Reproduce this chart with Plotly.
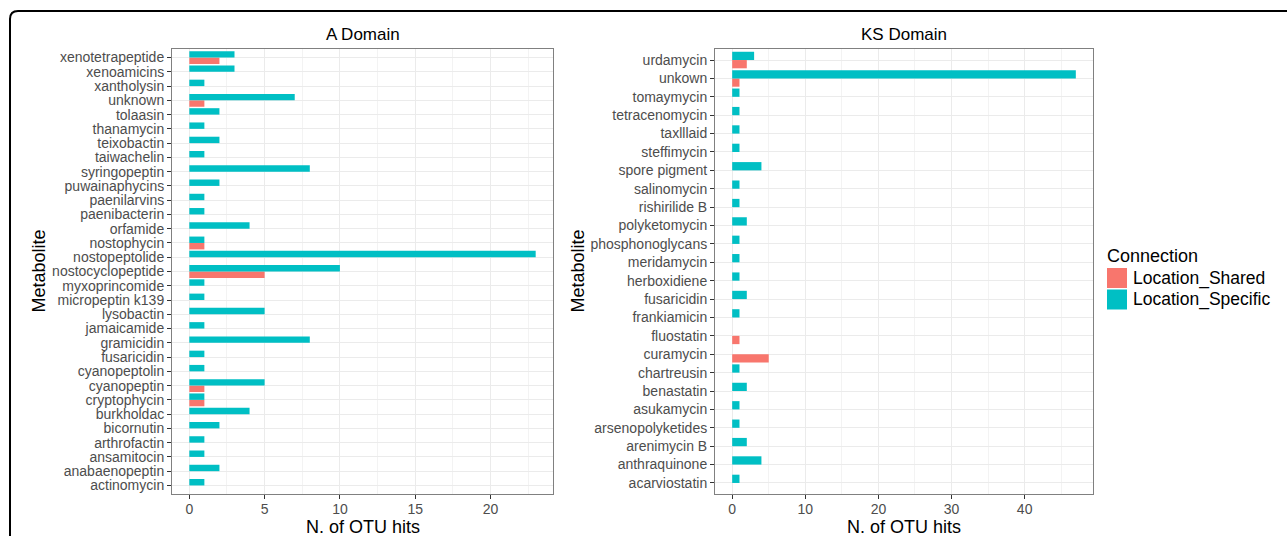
import plotly.graph_objects as go

# ---------------- data ----------------
a_metabolites = ["actinomycin", "anabaenopeptin", "ansamitocin", "arthrofactin", "bicornutin",
                 "burkholdac", "cryptophycin", "cyanopeptin", "cyanopeptolin", "fusaricidin",
                 "gramicidin", "jamaicamide", "lysobactin", "micropeptin k139", "myxoprincomide",
                 "nostocyclopeptide", "nostopeptolide", "nostophycin", "orfamide", "paenibacterin",
                 "paenilarvins", "puwainaphycins", "syringopeptin", "taiwachelin", "teixobactin",
                 "thanamycin", "tolaasin", "unknown", "xantholysin", "xenoamicins", "xenotetrapeptide"]
a_specific = [1, 2, 1, 1, 2,
              4, 1, 5, 1, 1,
              8, 1, 5, 1, 1,
              10, 23, 1, 4, 1,
              1, 2, 8, 1, 2,
              1, 2, 7, 1, 3, 3]
a_shared_names = ["cryptophycin", "cyanopeptin", "nostocyclopeptide", "nostophycin", "unknown", "xenotetrapeptide"]
a_shared = [1, 1, 5, 1, 1, 2]

ks_metabolites = ["acarviostatin", "anthraquinone", "arenimycin B", "arsenopolyketides", "asukamycin",
                  "benastatin", "chartreusin", "curamycin", "fluostatin", "frankiamicin",
                  "fusaricidin", "herboxidiene", "meridamycin", "phosphonoglycans", "polyketomycin",
                  "rishirilide B", "salinomycin", "spore pigment", "steffimycin", "taxlllaid",
                  "tetracenomycin", "tomaymycin", "unkown", "urdamycin"]
ks_specific_names = ["acarviostatin", "anthraquinone", "arenimycin B", "arsenopolyketides", "asukamycin",
                     "benastatin", "chartreusin", "frankiamicin",
                     "fusaricidin", "herboxidiene", "meridamycin", "phosphonoglycans", "polyketomycin",
                     "rishirilide B", "salinomycin", "spore pigment", "steffimycin", "taxlllaid",
                     "tetracenomycin", "tomaymycin", "unkown", "urdamycin"]
ks_specific = [1, 4, 2, 1, 1,
               2, 1, 1,
               2, 1, 1, 1, 2,
               1, 1, 4, 1, 1,
               1, 1, 47, 3]
ks_shared_names = ["curamycin", "fluostatin", "unkown", "urdamycin"]
ks_shared = [5, 1, 1, 2]

legend_title = "Connection"
legend_names = ["Location_Shared", "Location_Specific"]
colors = ["#F8766D", "#00BFC4"]

# ---------------- figure ----------------
W, H = 1287, 536
FONT = "Liberation Sans, Arial, sans-serif"

fig = go.Figure()

fig.add_trace(go.Bar(y=a_shared_names, x=a_shared, orientation="h", name=legend_names[0],
                     marker=dict(color=colors[0], line=dict(width=0)), showlegend=False,
                     xaxis="x", yaxis="y"))
fig.add_trace(go.Bar(y=a_metabolites, x=a_specific, orientation="h", name=legend_names[1],
                     marker=dict(color=colors[1], line=dict(width=0)), showlegend=False,
                     xaxis="x", yaxis="y"))
fig.add_trace(go.Bar(y=ks_shared_names, x=ks_shared, orientation="h", name=legend_names[0],
                     marker=dict(color=colors[0], line=dict(width=0)), showlegend=False,
                     xaxis="x2", yaxis="y2"))
fig.add_trace(go.Bar(y=ks_specific_names, x=ks_specific, orientation="h", name=legend_names[1],
                     marker=dict(color=colors[1], line=dict(width=0)), showlegend=False,
                     xaxis="x2", yaxis="y2"))

y0, y1 = (H - 494) / H, (H - 49) / H
dx1 = [172 / W, 553 / W]
dx2 = [715 / W, 1093 / W]

tickfont = dict(family=FONT, size=14, color="#4d4d4d")
grid_major = "#ebebeb"
grid_minor = "#f3f3f3"

def xaxis(domain, anchor, rng, dtick, minor):
    return dict(domain=domain, anchor=anchor, range=rng, dtick=dtick, tick0=0,
                showline=True, mirror=True, linecolor="#808080", linewidth=1,
                ticks="outside", ticklen=4, tickcolor="#333333", tickwidth=1,
                tickfont=tickfont, showgrid=True, gridcolor=grid_major, gridwidth=1.2,
                zeroline=False, ticklabelstandoff=-2,
                minor=dict(dtick=minor, tick0=0, showgrid=True, gridcolor=grid_minor, gridwidth=0.8))

def yaxis(domain, anchor, cats):
    n = len(cats)
    return dict(domain=domain, anchor=anchor, type="category", categoryorder="array",
                categoryarray=cats, range=[-0.6, n - 0.4],
                tickmode="array", tickvals=cats, ticktext=cats,
                showline=True, mirror=True, linecolor="#808080", linewidth=1,
                ticks="outside", ticklen=4, tickcolor="#333333", tickwidth=1,
                tickfont=tickfont, showgrid=True, gridcolor=grid_major, gridwidth=1.2,
                zeroline=False)

a_max = max(a_specific + a_shared)
k_max = max(ks_specific + ks_shared)

fig.update_layout(
    width=W, height=H,
    margin=dict(l=0, r=0, t=0, b=0),
    paper_bgcolor="white", plot_bgcolor="white",
    barmode="group", bargap=0.1, bargroupgap=0,
    font=dict(family=FONT, color="black"),
    xaxis=xaxis(dx1, "y", [-0.05 * a_max, 1.05 * a_max], 5, 2.5),
    yaxis=yaxis([y0, y1], "x", a_metabolites),
    xaxis2=xaxis(dx2, "y2", [-0.05 * k_max, 1.05 * k_max], 10, 5),
    yaxis2=yaxis([y0, y1], "x2", ks_metabolites),
    showlegend=False,
)

annots = [
    dict(text="A Domain", x=(dx1[0] + dx1[1]) / 2, y=(H - 34) / H, size=17),
    dict(text="KS Domain", x=(dx2[0] + dx2[1]) / 2, y=(H - 34) / H, size=17),
    dict(text="N. of OTU hits", x=(dx1[0] + dx1[1]) / 2, y=(H - 527) / H, size=18),
    dict(text="N. of OTU hits", x=(dx2[0] + dx2[1]) / 2, y=(H - 527) / H, size=18),
]
for a in annots:
    fig.add_annotation(text=a["text"], x=a["x"], y=a["y"], xref="paper", yref="paper",
                       showarrow=False, xanchor="center", yanchor="middle",
                       font=dict(family=FONT, size=a["size"], color="black"))
for xpx in (38, 577):
    fig.add_annotation(text="Metabolite", x=xpx / W, y=(y0 + y1) / 2, xref="paper", yref="paper",
                       showarrow=False, textangle=-90, xanchor="center", yanchor="middle",
                       font=dict(family=FONT, size=18, color="black"))

# legend (drawn as key squares + labels)
lx = 1107
fig.add_annotation(text=legend_title, x=(lx - 2) / W, y=(H - 256) / H, xref="paper", yref="paper",
                   showarrow=False, xanchor="left", yanchor="middle",
                   font=dict(family=FONT, size=18, color="black"))
for i, (nm, c) in enumerate(zip(legend_names, colors)):
    top = 268 + i * 21.5
    fig.add_shape(type="rect", xref="paper", yref="paper",
                  x0=lx / W, x1=(lx + 20) / W, y0=(H - top - 20) / H, y1=(H - top) / H,
                  fillcolor=c, line=dict(width=0))
    fig.add_annotation(text=nm, x=(lx + 24) / W, y=(H - top - 10) / H, xref="paper", yref="paper",
                       showarrow=False, xanchor="left", yanchor="middle",
                       font=dict(family=FONT, size=17.5, color="black"))

# outer figure frame with rounded top-left corner
fx0, fy_top = 10 / W, 1 - 11 / H
r_x, r_y = 8 / W, 8 / H
fig.add_shape(type="path", xref="paper", yref="paper",
              path=f"M {fx0},0 L {fx0},{fy_top - r_y} Q {fx0},{fy_top} {fx0 + r_x},{fy_top} L 1,{fy_top}",
              line=dict(color="black", width=2))

fig.write_html("out.html")
